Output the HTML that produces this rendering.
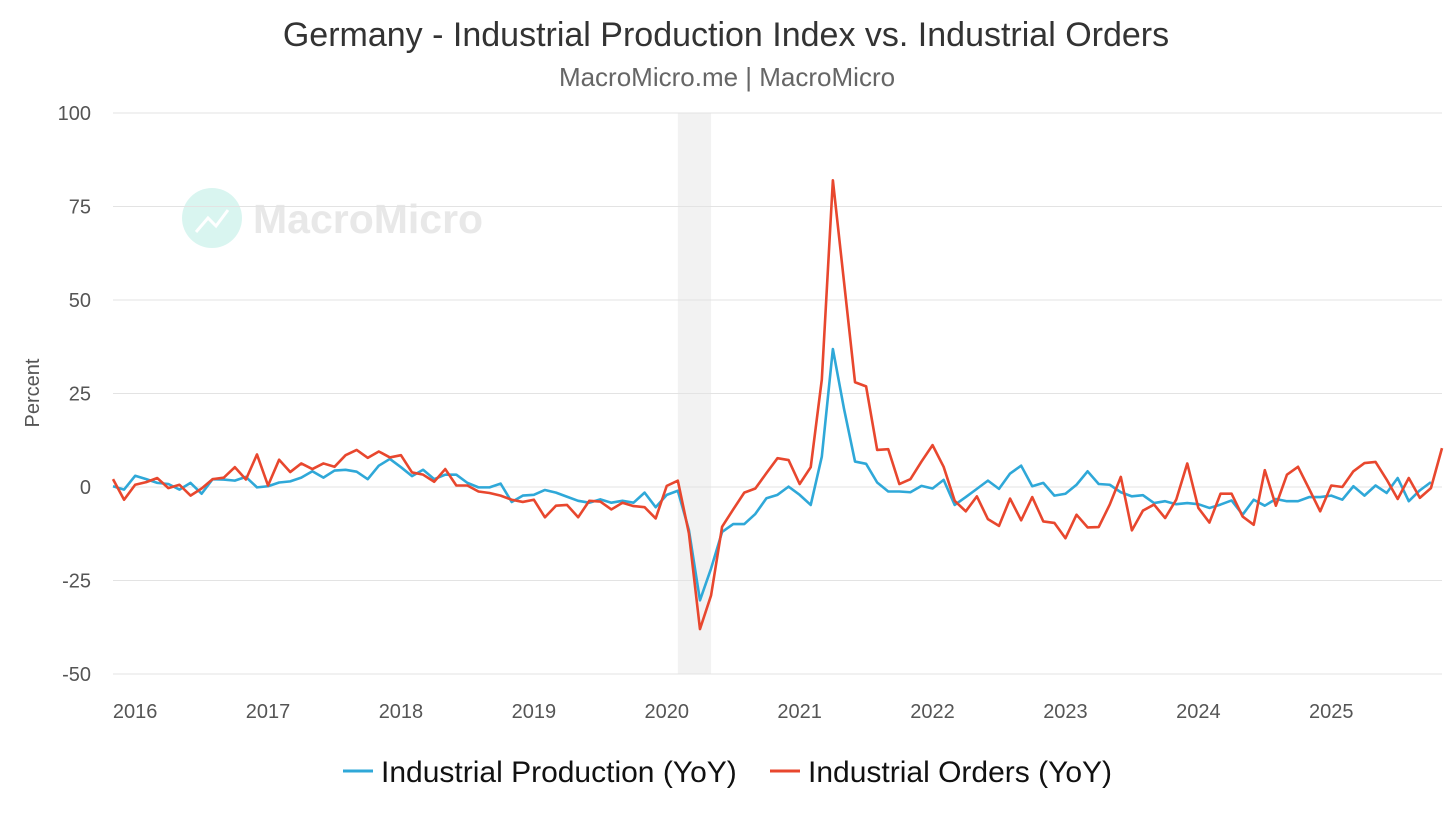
<!DOCTYPE html>
<html><head><meta charset="utf-8"><style>
body{margin:0;background:#fff;font-family:"Liberation Sans",sans-serif}
svg{display:block}
</style></head><body>
<svg id="chart" width="1456" height="819" viewBox="0 0 1456 819">
<text x="726" y="46" text-anchor="middle" font-size="34" fill="#333">Germany - Industrial Production Index vs. Industrial Orders</text>
<text x="727" y="86" text-anchor="middle" font-size="26" fill="#666">MacroMicro.me | MacroMicro</text>
<g opacity="0.9">
<circle cx="212" cy="218" r="30" fill="#d5f5ef"/>
<polyline points="196,232 208,218 216,226 228,210" fill="none" stroke="#fff" stroke-width="3"/>
<text x="253" y="233" font-size="41" font-weight="bold" fill="#e6e6e6">MacroMicro</text>
</g>
<g id="grid"></g>
<g id="yticks"></g>
<g id="xticks"></g>
<text transform="translate(39,393) rotate(-90)" text-anchor="middle" font-size="20" fill="#555">Percent</text>
<g id="series"></g>
<g>
<g>
<line x1="343" y1="771" x2="373" y2="771" stroke="#2fa8d8" stroke-width="3"/>
<text x="381" y="782" font-size="30" fill="#111">Industrial Production (YoY)</text>
</g>
<g>
<line x1="770" y1="771" x2="800" y2="771" stroke="#e8472e" stroke-width="3"/>
<text x="808" y="782" font-size="30" fill="#111">Industrial Orders (YoY)</text>
</g>
</g>
</svg>
<script>
const yTicks=[100,75,50,25,0,-25,-50];
const xYears=["2016","2017","2018","2019","2020","2021","2022","2023","2024","2025"];
const startYear=2015, startMonth=10; // Nov 2015 (0-based month)
const recession=[51,54];
const production=[0.2,-0.7,3,2.1,1.1,0.8,-0.7,1.1,-1.8,2.1,2,1.7,2.7,-0.1,0.2,1.2,1.5,2.5,4.2,2.5,4.4,4.6,4.1,2.1,5.7,7.5,5.3,2.9,4.6,2.1,3.3,3.3,1.1,-0.1,-0.1,0.9,-4,-2.3,-2.1,-0.8,-1.5,
-2.6,-3.7,-4.2,-3.3,-4.2,-3.7,-4.2,-1.5,-5.4,-2.1,-1,-11.5,-30.3,-21.8,-12,-9.9,-9.9,-7.2,-3,-2.1,0.1,-2.1,-4.8,8.1,36.9,21,6.8,6.2,1.2,-1.2,-1.2,-1.4,0.3,-0.4,1.9,-4.8,
-2.7,-0.5,1.7,-0.5,3.6,5.7,0.2,1.1,-2.3,-1.8,0.6,4.2,0.8,0.6,-1.4,-2.5,-2.2,-4.3,-3.8,-4.6,-4.3,-4.6,-5.6,-4.7,-3.6,-7.4,-3.4,-5,-3.2,-3.8,-3.8,-2.7,-2.7,-2.3,-3.4,0.2,-2.3,0.4,-1.6,2.4,-3.8,-0.9,1.3];
const orders=[2.1,-3.4,0.6,1.3,2.4,-0.3,0.6,-2.3,-0.4,2.1,2.5,5.3,2,8.7,0.4,7.3,4,6.3,4.8,6.3,5.4,8.5,9.9,7.8,9.5,7.9,8.5,3.9,3.3,1.4,4.8,0.4,0.4,-1.2,-1.6,-2.3,-3.4,-4,-3.4,-8.1,-5,
-4.8,-8.1,-3.7,-3.9,-6,-4.2,-5.1,-5.4,-8.4,0.3,1.7,-12.4,-38,-29,-10.6,-6,-1.5,-0.4,3.7,7.7,7.2,0.8,5.3,28.7,82,55,28,26.9,9.9,10.1,0.8,2.1,6.8,11.2,5.4,-3.7,
-6.5,-2.5,-8.6,-10.4,-3.1,-8.9,-2.7,-9.2,-9.6,-13.7,-7.4,-10.8,-10.7,-4.7,2.7,-11.6,-6.3,-4.7,-8.3,-3.4,6.3,-5.6,-9.5,-1.8,-1.8,-7.9,-10.1,4.5,-5,3.3,5.4,-0.5,-6.5,0.4,0,4.2,6.4,6.7,2,-3.2,2.4,-2.9,-0.3,10.4];
const NS="http://www.w3.org/2000/svg";
const L=113,R=1442,T=113,B=674,yMin=-50,yMax=100,nMonths=121;
const xs=i=>L+(R-L)*i/(nMonths-1);
const ys=v=>B-(v-yMin)/(yMax-yMin)*(B-T);
function mk(t,a,p){const e=document.createElementNS(NS,t);for(const k in a)e.setAttribute(k,a[k]);p.appendChild(e);return e;}
const grid=document.getElementById('grid'),yt=document.getElementById('yticks'),xt=document.getElementById('xticks'),ser=document.getElementById('series');
const rec=mk('rect',{x:xs(recession[0]),y:T,width:xs(recession[1])-xs(recession[0]),height:B-T,fill:'#f2f2f2'},grid);


yTicks.forEach(v=>{
 const g=mk('line',{x1:L,x2:R,y1:ys(v),y2:ys(v),stroke:'#e3e3e3','stroke-width':1},grid);
 
 
 const t=mk('text',{x:91,y:ys(v)+7,'text-anchor':'end','font-size':20,fill:'#555'},yt);t.textContent=v;
 
 
});
xYears.forEach(y=>{
 const i=(parseInt(y)-startYear)*12-startMonth;
 const t=mk('text',{x:xs(i),y:718,'text-anchor':'middle','font-size':20,fill:'#555'},xt);t.textContent=y;
 
 
});
function line(data,color,name){
 const p=mk('polyline',{points:data.map((v,i)=>xs(i)+','+ys(v)).join(' '),fill:'none',stroke:color,'stroke-width':2.6,'stroke-linejoin':'round'},ser);
 
 
}
line(production,'#2fa8d8','production-line');
line(orders,'#e8472e','orders-line');
</script>
</body></html>
